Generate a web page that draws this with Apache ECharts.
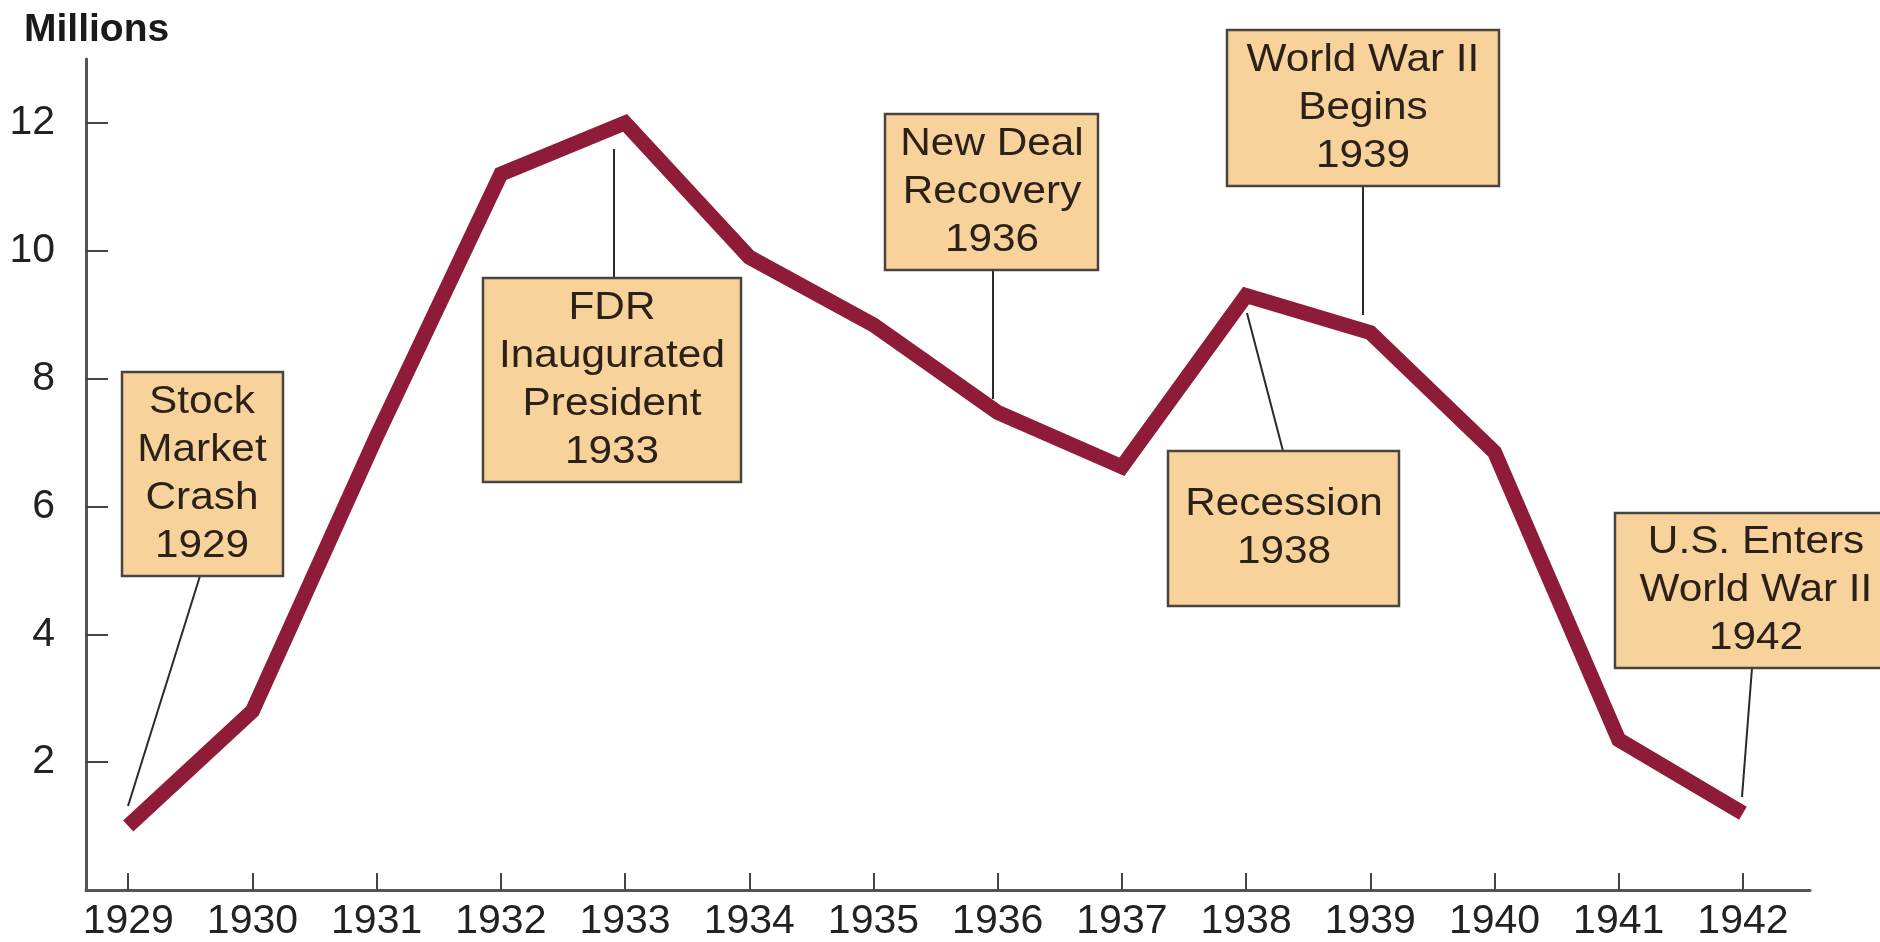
<!DOCTYPE html>
<html>
<head>
<meta charset="utf-8">
<script src="https://cdn.jsdelivr.net/npm/echarts@6/dist/echarts.min.js"></script>
<style>
html,body{margin:0;padding:0;background:#fff;}
#c{width:1880px;height:942px;}
</style>
</head>
<body>
<div id="c"></div>
<script>
// ---- data ----
const years = [1929,1930,1931,1932,1933,1934,1935,1936,1937,1938,1939,1940,1941,1942];
const unemployedMillions = [1.0,2.8,7.1,11.2,12.0,9.9,8.84,7.47,6.62,9.3,8.72,6.85,2.35,1.2];
const yTickValues = [2,4,6,8,10,12];
const yAxisTitle = 'Millions';
const annotationTexts = [
  'Stock\nMarket\nCrash\n1929',
  'FDR\nInaugurated\nPresident\n1933',
  'New Deal\nRecovery\n1936',
  'World War II\nBegins\n1939',
  'Recession\n1938',
  'U.S. Enters\nWorld War II\n1942'
];

// ---- annotation layout (pixels) ----
const annLayout = [
  {box:[122,372,161,204], tx:202, leader:[[200,576],[128,806]]},
  {box:[483,278,258,204], tx:612, leader:[[614,149],[614,278]]},
  {box:[885,114,213,156], tx:992, leader:[[993,270],[993,399]]},
  {box:[1227,30,272,156], tx:1363, leader:[[1363,186],[1363,315]]},
  {box:[1168,451,231,155], tx:1284, leader:[[1283,451],[1247,313]]},
  {box:[1615,513,290,155], tx:1756, leader:[[1752,668],[1742,797]]}
];

const FONT = '"Liberation Sans", Arial, Helvetica, sans-serif';
const graphics = [];
annotationTexts.forEach((t, i) => {
  const L = annLayout[i];
  graphics.push({
    type:'line', silent:true, z:5,
    shape:{x1:L.leader[0][0], y1:L.leader[0][1], x2:L.leader[1][0], y2:L.leader[1][1]},
    style:{stroke:'#2a2a2a', lineWidth:2}
  });
  graphics.push({
    type:'rect', silent:true, z:6,
    shape:{x:L.box[0], y:L.box[1], width:L.box[2], height:L.box[3]},
    style:{fill:'#f8d29b', stroke:'#4a4440', lineWidth:2.5}
  });
  graphics.push({
    type:'text', silent:true, z:7,
    x:L.tx, y:L.box[1] + L.box[3]/2, scaleX:1.085,
    style:{text:t, font:'39px ' + FONT, fill:'#2b2118', align:'center', verticalAlign:'middle', lineHeight:48}
  });
});
graphics.push({
  type:'text', silent:true, z:7, x:24, y:30,
  style:{text:yAxisTitle, font:'bold 39px ' + FONT, fill:'#1a1a1a', align:'left', verticalAlign:'middle'}
});

const chart = echarts.init(document.getElementById('c'), null, {renderer:'canvas'});
chart.setOption({
  backgroundColor:'#ffffff',
  animation:false,
  grid:{left:86, right:70, top:59, bottom:52, containLabel:false, outerBoundsMode:'none'},
  xAxis:{
    type:'value', min:1928.66, max:1942.54,
    splitLine:{show:false},
    axisLine:{show:true, lineStyle:{color:'#555', width:3}},
    axisTick:{show:true, inside:true, length:17, lineStyle:{color:'#444', width:2}, customValues:years},
    axisLabel:{show:true, margin:11, fontSize:41, fontFamily:FONT, color:'#222', customValues:years, formatter:v=>String(v)}
  },
  yAxis:{
    type:'value', min:0, max:13,
    splitLine:{show:false},
    axisLine:{show:true, lineStyle:{color:'#555', width:3}},
    axisTick:{show:true, inside:true, length:22, lineStyle:{color:'#444', width:2}, customValues:yTickValues},
    axisLabel:{show:true, margin:31, fontSize:41, fontFamily:FONT, color:'#222', customValues:yTickValues, formatter:v=>String(v)}
  },
  series:[{
    type:'line',
    data:years.map((y,i)=>[y, unemployedMillions[i]]),
    symbol:'none',
    z:3,
    lineStyle:{color:'#8e1b38', width:15, cap:'butt', join:'miter'}
  }],
  graphic:graphics
});
</script>
</body>
</html>
